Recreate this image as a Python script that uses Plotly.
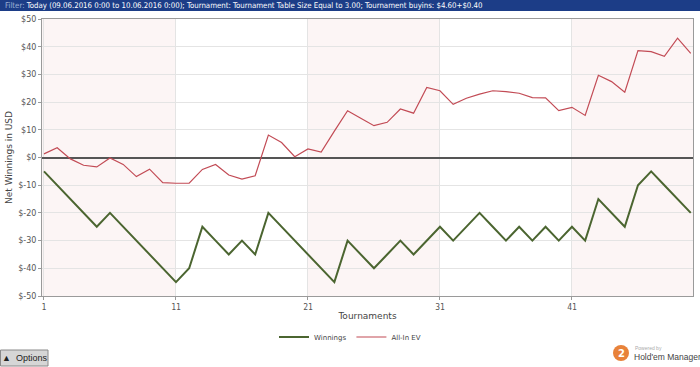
import plotly.graph_objects as go

tournaments = list(range(1, 51))
winnings = [-5, -10, -15, -20, -25, -20, -25, -30, -35, -40,
            -45, -40, -25, -30, -35, -30, -35, -20, -25, -30,
            -35, -40, -45, -30, -35, -40, -35, -30, -35, -30,
            -25, -30, -25, -20, -25, -30, -25, -30, -25, -30,
            -25, -30, -15, -20, -25, -10, -5, -10, -15, -20]
allin_ev = [1.3, 3.5, -0.5, -2.8, -3.4, -0.2, -2.5, -6.9, -4.2, -9.1,
            -9.3, -9.3, -4.3, -2.5, -6.3, -7.8, -6.6, 8.1, 5.4, 0.3,
            3.1, 2.0, 9.5, 16.9, 14.2, 11.5, 12.7, 17.5, 16.0, 25.3,
            24.1, 19.2, 21.4, 22.9, 24.1, 23.8, 23.2, 21.6, 21.5, 16.9,
            18.1, 15.2, 29.7, 27.4, 23.6, 38.6, 38.2, 36.5, 43.1, 37.6]

y_tickvals = [50, 40, 30, 20, 10, 0, -10, -20, -30, -40, -50]
y_ticktext = ["$50", "$40", "$30", "$20", "$10", "$0", "$-10", "$-20", "$-30", "$-40", "$-50"]
x_tickvals = [1, 11, 21, 31, 41]
band_edges = [(0.85, 11), (21, 31), (41, 50.17)]

W, H = 700, 367
L, R, T, B = 42, 7, 19, 71
pw, ph = W - L - R, H - T - B


def px(x):
    return (x - L) / pw


def py(y):
    return (H - B - y) / ph


fig = go.Figure()
fig.add_trace(go.Scatter(x=tournaments, y=winnings, mode="lines", name="Winnings",
                         line=dict(color="#4b6530", width=2)))
fig.add_trace(go.Scatter(x=tournaments, y=allin_ev, mode="lines", name="All-In EV",
                         line=dict(color="#c24b55", width=1.2)))

shapes = []
for a, b in band_edges:
    shapes.append(dict(type="rect", xref="x", yref="y", x0=a, x1=b, y0=-50, y1=50,
                       fillcolor="#fcf5f5", line=dict(width=0), layer="below"))
# header bar
shapes.append(dict(type="rect", xref="paper", yref="paper", x0=px(0), x1=px(700),
                   y0=py(11), y1=py(0), fillcolor="#1c3d87", line=dict(width=0)))
# options button
shapes.append(dict(type="rect", xref="paper", yref="paper", x0=px(0.5), x1=px(48),
                   y0=py(366), y1=py(350), fillcolor="#d6d6d6",
                   line=dict(color="#8a8a8a", width=1)))
# logo badge
shapes.append(dict(type="circle", xref="paper", yref="paper", x0=px(613), x1=px(629),
                   y0=py(361), y1=py(345), fillcolor="#e8823a", line=dict(width=0)))

annotations = [
    dict(xref="paper", yref="paper", x=px(3), y=py(5.5), xanchor="left", yanchor="middle",
         showarrow=False,
         text="<span style='color:#9fb2d8'>Filter:</span> Today (09.06.2016 0:00 to 10.06.2016 0:00); "
              "Tournament: Tournament Table Size Equal to 3.00; Tournament buyins: $4.60+$0.40",
         font=dict(family="DejaVu Sans Condensed", size=7.8, color="#ffffff")),
    dict(xref="paper", yref="paper", x=px(24), y=py(358), xanchor="center", yanchor="middle",
         showarrow=False, text="▲  Options",
         font=dict(family="Liberation Sans", size=9, color="#222222")),
    dict(xref="paper", yref="paper", x=px(621), y=py(353), xanchor="center", yanchor="middle",
         showarrow=False, text="<b>2</b>",
         font=dict(family="DejaVu Sans", size=10, color="#ffffff")),
    dict(xref="paper", yref="paper", x=px(633), y=py(348), xanchor="left", yanchor="middle",
         showarrow=False, text="Powered by",
         font=dict(family="Liberation Sans", size=5, color="#aaaaaa")),
    dict(xref="paper", yref="paper", x=px(632), y=py(357), xanchor="left", yanchor="middle",
         showarrow=False, text="Hold'em Manager",
         font=dict(family="Liberation Sans", size=8.5, color="#444444")),
]

fig.update_layout(
    width=W, height=H,
    margin=dict(l=L, r=R, t=T, b=B),
    paper_bgcolor="#ffffff", plot_bgcolor="#ffffff",
    shapes=shapes, annotations=annotations,
    showlegend=True,
    legend=dict(orientation="h", x=px(350), xanchor="center", y=py(337), yanchor="middle",
                font=dict(family="DejaVu Sans", size=7, color="#444444"),
                itemwidth=30, tracegroupgap=0),
    xaxis=dict(range=[0.85, 50.17], tickvals=x_tickvals, showgrid=True, gridcolor="#e4e4e4",
               zeroline=False, showline=True, mirror=True, linecolor="#9a9a9a", linewidth=1,
               ticks="outside", ticklen=3, tickcolor="#9a9a9a",
               tickfont=dict(family="DejaVu Sans Mono", size=8, color="#555555"),
               title=dict(text="Tournaments", standoff=2,
                          font=dict(family="DejaVu Sans", size=9, color="#444444"))),
    yaxis=dict(range=[-50, 50], tickvals=y_tickvals, ticktext=y_ticktext, showgrid=True,
               gridcolor="#e4e4e4", zeroline=True, zerolinecolor="#555555", zerolinewidth=2,
               showline=True, mirror=True, linecolor="#9a9a9a", linewidth=1,
               ticks="outside", ticklen=3, tickcolor="#9a9a9a",
               tickfont=dict(family="DejaVu Sans", size=8, color="#555555"),
               title=dict(text="Net Winnings in USD", standoff=4,
                          font=dict(family="DejaVu Sans", size=9, color="#444444"))),
)

fig.write_html("out.html", config={"displayModeBar": False},
               post_script="document.body.style.margin='0';document.body.style.overflow='hidden';")
